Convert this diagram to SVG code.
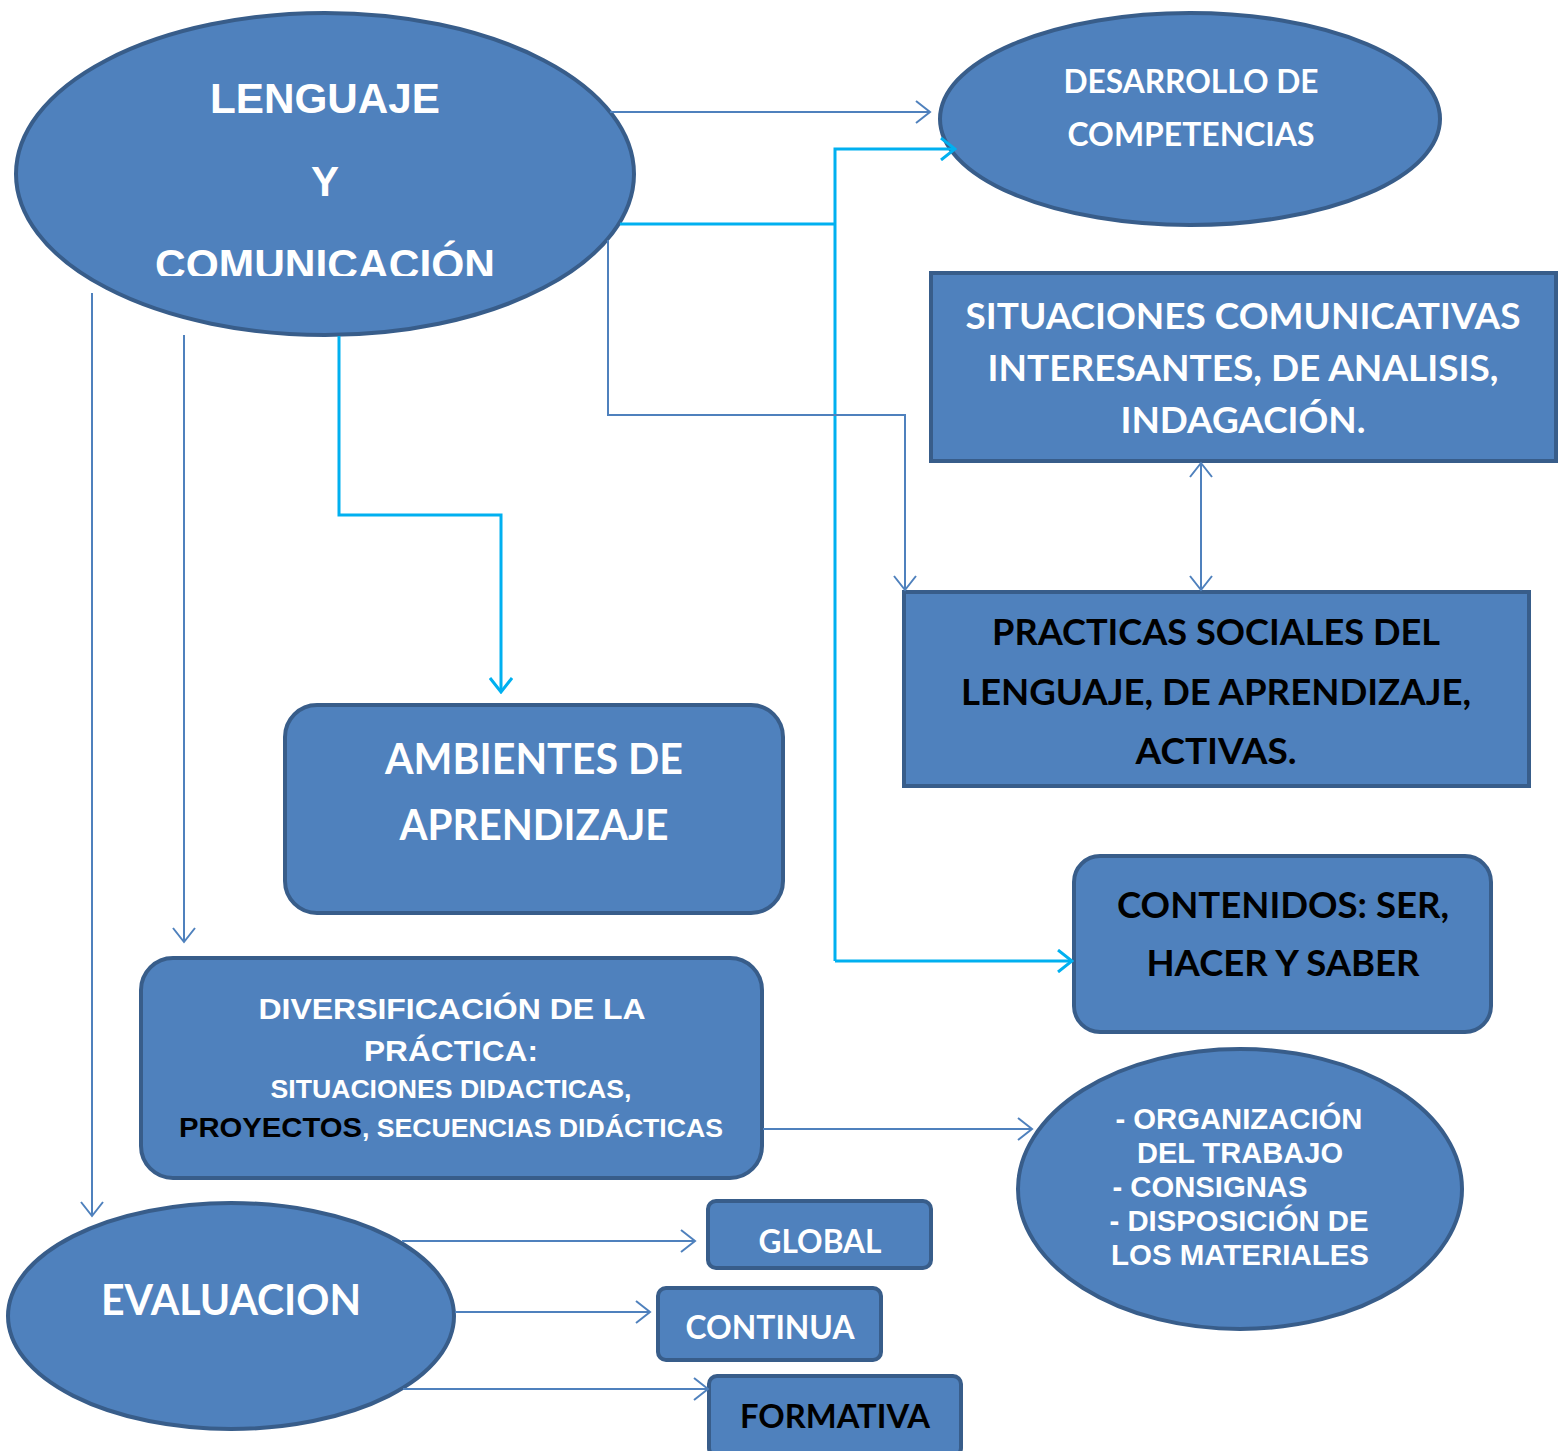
<svg xmlns="http://www.w3.org/2000/svg" width="1558" height="1451" viewBox="0 0 1558 1451">
<style>
.node{fill:#4F81BD;stroke:#385D8A;stroke-width:4}
.a{font-family:"Liberation Sans",Arial,sans-serif;font-weight:bold;text-anchor:middle}
.c{font-family:Lato,"Open Sans",sans-serif;font-weight:bold;text-anchor:middle}
.w{fill:#FFFFFF}
.k{fill:#000000}
.bl{fill:none;stroke:#4F81BD;stroke-width:2}
.cy{fill:none;stroke:#00B0F0;stroke-width:3}
</style>
<defs>
<marker id="ab" markerUnits="userSpaceOnUse" markerWidth="18" markerHeight="24" refX="16" refY="12" orient="auto-start-reverse" viewBox="0 0 18 24">
<path d="M2,1 L16,12 L2,23" fill="none" stroke="#4F81BD" stroke-width="2"/>
</marker>
<marker id="ac" markerUnits="userSpaceOnUse" markerWidth="18" markerHeight="24" refX="16" refY="12" orient="auto" viewBox="0 0 18 24">
<path d="M2,1 L16,12 L2,23" fill="none" stroke="#00B0F0" stroke-width="3"/>
</marker>
<clipPath id="clipTitle"><rect x="0" y="0" width="700" height="276"/></clipPath>
</defs>

<g id="n-lenguaje">
<ellipse class="node" cx="325" cy="174" rx="309" ry="161"/>
<text class="a w" x="325" y="113" font-size="42" textLength="230" lengthAdjust="spacingAndGlyphs">LENGUAJE</text>
<text class="a w" x="325" y="196" font-size="42">Y</text>
<text class="a w" x="325" y="279" font-size="42" textLength="340" lengthAdjust="spacingAndGlyphs" clip-path="url(#clipTitle)">COMUNICACIÓN</text>
</g>

<g id="n-desarrollo">
<ellipse class="node" cx="1190" cy="119" rx="250" ry="106"/>
<text class="c w" x="1191" y="93" font-size="32" textLength="255" lengthAdjust="spacingAndGlyphs">DESARROLLO DE</text>
<text class="c w" x="1191" y="146" font-size="32" textLength="247" lengthAdjust="spacingAndGlyphs">COMPETENCIAS</text>
</g>

<g id="n-situaciones">
<rect class="node" x="931" y="273" width="625" height="188"/>
<text class="c w" x="1243" y="329" font-size="37" textLength="555" lengthAdjust="spacingAndGlyphs">SITUACIONES COMUNICATIVAS</text>
<text class="c w" x="1243" y="381" font-size="37" textLength="511" lengthAdjust="spacingAndGlyphs">INTERESANTES, DE ANALISIS,</text>
<text class="c w" x="1243" y="433" font-size="37" textLength="245" lengthAdjust="spacingAndGlyphs">INDAGACIÓN.</text>
</g>

<g id="n-practicas">
<rect class="node" x="904" y="592" width="625" height="194"/>
<text class="c k" x="1216" y="645" font-size="37" textLength="448" lengthAdjust="spacingAndGlyphs">PRACTICAS SOCIALES DEL</text>
<text class="c k" x="1216" y="705" font-size="37" textLength="510" lengthAdjust="spacingAndGlyphs">LENGUAJE, DE APRENDIZAJE,</text>
<text class="c k" x="1216" y="764" font-size="37" textLength="161" lengthAdjust="spacingAndGlyphs">ACTIVAS.</text>
</g>

<g id="n-ambientes">
<rect class="node" x="285" y="705" width="498" height="208" rx="32"/>
<text class="c w" x="534" y="774" font-size="42" textLength="298" lengthAdjust="spacingAndGlyphs">AMBIENTES DE</text>
<text class="c w" x="534" y="840" font-size="42" textLength="269" lengthAdjust="spacingAndGlyphs">APRENDIZAJE</text>
</g>

<g id="n-contenidos">
<rect class="node" x="1074" y="856" width="417" height="176" rx="26"/>
<text class="c k" x="1283" y="918" font-size="37" textLength="332" lengthAdjust="spacingAndGlyphs">CONTENIDOS: SER,</text>
<text class="c k" x="1283" y="976" font-size="37" textLength="273" lengthAdjust="spacingAndGlyphs">HACER Y SABER</text>
</g>

<g id="n-diversificacion">
<rect class="node" x="141" y="958" width="621" height="220" rx="32"/>
<text class="a w" x="452" y="1019" font-size="30" textLength="387" lengthAdjust="spacingAndGlyphs">DIVERSIFICACIÓN DE LA</text>
<text class="a w" x="451" y="1061" font-size="30" textLength="174" lengthAdjust="spacingAndGlyphs">PRÁCTICA:</text>
<text class="a w" x="451" y="1098" font-size="25" textLength="361" lengthAdjust="spacingAndGlyphs">SITUACIONES DIDACTICAS,</text>
<text class="a k" x="179" y="1137" font-size="27" text-anchor="start" style="text-anchor:start" textLength="183" lengthAdjust="spacingAndGlyphs">PROYECTOS</text>
<text class="a w" x="362" y="1137" font-size="25" style="text-anchor:start" textLength="361" lengthAdjust="spacingAndGlyphs">, SECUENCIAS DIDÁCTICAS</text>
</g>

<g id="n-organizacion">
<ellipse class="node" cx="1240" cy="1189" rx="222" ry="140"/>
<text class="a w" x="1239" y="1129" font-size="29" textLength="247" lengthAdjust="spacingAndGlyphs">- ORGANIZACIÓN</text>
<text class="a w" x="1240" y="1163" font-size="29" textLength="206" lengthAdjust="spacingAndGlyphs">DEL TRABAJO</text>
<text class="a w" x="1210" y="1197" font-size="29" textLength="195" lengthAdjust="spacingAndGlyphs">- CONSIGNAS</text>
<text class="a w" x="1239" y="1231" font-size="29" textLength="259" lengthAdjust="spacingAndGlyphs">- DISPOSICIÓN DE</text>
<text class="a w" x="1240" y="1265" font-size="29" textLength="258" lengthAdjust="spacingAndGlyphs">LOS MATERIALES</text>
</g>

<g id="n-evaluacion">
<ellipse class="node" cx="231" cy="1316" rx="223" ry="113"/>
<text class="c w" x="231" y="1315" font-size="42" textLength="260" lengthAdjust="spacingAndGlyphs">EVALUACION</text>
</g>

<g id="n-global">
<rect class="node" x="708" y="1201" width="223" height="67" rx="8"/>
<text class="c w" x="820" y="1253" font-size="32" textLength="123" lengthAdjust="spacingAndGlyphs">GLOBAL</text>
</g>

<g id="n-continua">
<rect class="node" x="658" y="1288" width="223" height="72" rx="8"/>
<text class="c w" x="770" y="1339" font-size="32" textLength="169" lengthAdjust="spacingAndGlyphs">CONTINUA</text>
</g>

<g id="n-formativa">
<rect class="node" x="709" y="1376" width="252" height="80" rx="8"/>
<text class="c k" x="835" y="1428" font-size="32" textLength="190" lengthAdjust="spacingAndGlyphs">FORMATIVA</text>
</g>

<g id="connectors">
<path class="bl" d="M610,112 L930,112" marker-end="url(#ab)"/>
<path class="cy" d="M620,224 L835,224"/>
<path class="cy" d="M835,961 L835,149 L955,149" marker-end="url(#ac)"/>
<path class="cy" d="M835,961 L1072,961" marker-end="url(#ac)"/>
<path class="bl" d="M608,240 L608,415 L905,415 L905,590" marker-end="url(#ab)"/>
<path class="bl" d="M1201,463 L1201,590" marker-start="url(#ab)" marker-end="url(#ab)"/>
<path class="cy" d="M339,336 L339,515 L501,515 L501,692" marker-end="url(#ac)"/>
<path class="bl" d="M184,335 L184,942" marker-end="url(#ab)"/>
<path class="bl" d="M92,293 L92,1216" marker-end="url(#ab)"/>
<path class="bl" d="M763,1129 L1032,1129" marker-end="url(#ab)"/>
<path class="bl" d="M402,1241 L695,1241" marker-end="url(#ab)"/>
<path class="bl" d="M455,1312 L650,1312" marker-end="url(#ab)"/>
<path class="bl" d="M403,1389 L708,1389" marker-end="url(#ab)"/>
</g>
</svg>
